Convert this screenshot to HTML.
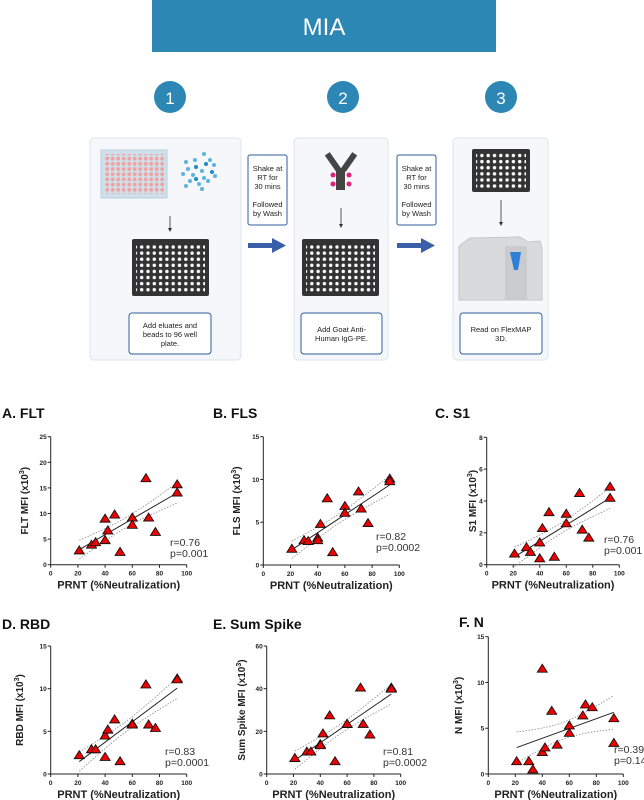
<!DOCTYPE html>
<html><head><meta charset="utf-8"><style>
body{margin:0;width:644px;height:800px;background:#fff;overflow:hidden;font-family:"Liberation Sans",sans-serif}
svg{position:absolute;left:0;top:0}
</style></head><body>
<svg width="644" height="800" id="main" font-family="Liberation Sans, sans-serif">
<defs>
<pattern id="dots" width="6.3" height="6.1" patternUnits="userSpaceOnUse"><circle cx="3.1" cy="3" r="1.7" fill="#fff"/></pattern>
<pattern id="pdots" width="5.5" height="5.2" patternUnits="userSpaceOnUse"><circle cx="2.7" cy="2.6" r="1.9" fill="#f2a0a0"/></pattern>
</defs>
<rect x="152" y="0" width="344" height="52" fill="#2c87b5"/>
<text x="324" y="35" font-size="24" fill="#fff" text-anchor="middle">MIA</text>
<g><circle cx="170" cy="97" r="16" fill="#2c87b5"/><text x="170" y="104" font-size="17" fill="#fff" text-anchor="middle">1</text></g>
<g><circle cx="343" cy="97" r="16" fill="#2c87b5"/><text x="343" y="104" font-size="17" fill="#fff" text-anchor="middle">2</text></g>
<g><circle cx="501" cy="97" r="16" fill="#2c87b5"/><text x="501" y="104" font-size="17" fill="#fff" text-anchor="middle">3</text></g>
<rect x="90" y="138" width="151" height="222" rx="4" fill="#f5f7fb" stroke="#dde3ec"/>
<rect x="294" y="138" width="94" height="222" rx="4" fill="#f5f7fb" stroke="#dde3ec"/>
<rect x="453" y="138" width="95" height="222" rx="4" fill="#f5f7fb" stroke="#dde3ec"/>
<g><rect x="101" y="150" width="66" height="48" fill="#cfe0ea" stroke="#b9cfdc"/><rect x="104" y="154" width="60" height="40" fill="url(#pdots)"/></g>
<g fill="#5bb4e0">
<circle cx="204" cy="154" r="2"/><circle cx="195" cy="160" r="2"/><circle cx="186" cy="162" r="2"/><circle cx="210" cy="160" r="2"/><circle cx="206" cy="164" r="2" fill="#1a8ac8"/><circle cx="196" cy="167" r="2" fill="#1a8ac8"/><circle cx="188" cy="169" r="2"/><circle cx="214" cy="165" r="2"/><circle cx="202" cy="171" r="2"/><circle cx="212" cy="172" r="2" fill="#1a8ac8"/><circle cx="193" cy="175" r="2"/><circle cx="183" cy="174" r="2"/><circle cx="204" cy="178" r="2"/><circle cx="215" cy="176" r="2"/><circle cx="190" cy="181" r="2"/><circle cx="199" cy="184" r="2"/><circle cx="208" cy="181" r="2"/><circle cx="186" cy="186" r="2"/><circle cx="202" cy="189" r="2"/><circle cx="196" cy="179" r="2" fill="#1a8ac8"/></g>
<g><rect x="132" y="239" width="77" height="57" rx="2" fill="#333"/><rect x="136" y="243" width="69" height="49" fill="url(#dots)"/></g>
<g><rect x="302" y="239" width="77" height="57" rx="2" fill="#333"/><rect x="306" y="243" width="69" height="49" fill="url(#dots)"/></g>
<g><rect x="472" y="149" width="58" height="43" rx="2" fill="#333"/><rect x="476" y="152" width="50" height="37" fill="url(#dots)"/></g>
<g><rect x="336" y="168" width="9" height="22" fill="#444"/><rect x="330" y="152" width="6" height="20" fill="#444" transform="rotate(-35 333 162)"/><rect x="346" y="152" width="6" height="20" fill="#444" transform="rotate(35 349 162)"/><circle cx="333" cy="175" r="2.5" fill="#e0207a"/><circle cx="333" cy="184" r="2.5" fill="#e0207a"/><circle cx="349" cy="175" r="2.5" fill="#e0207a"/><circle cx="349" cy="184" r="2.5" fill="#e0207a"/></g>
<g><path d="M459 246 L470 238 L520 237 L528 242 L540 241 L542 248 L542 300 L459 300 Z" fill="#d9dadc" stroke="#c4c6c9"/><rect x="505" y="246" width="22" height="54" fill="#c9cbce"/><path d="M510 252 L521 252 L518 270 L514 270 Z" fill="#2e7fd8"/></g>
<g stroke="#333" stroke-width="0.8"><line x1="170" y1="216" x2="170" y2="228"/><line x1="341" y1="208" x2="341" y2="224"/><line x1="501" y1="200" x2="501" y2="222"/></g>
<g fill="#333"><path d="M168 228 L172 228 L170 232Z"/><path d="M339 224 L343 224 L341 228Z"/><path d="M499 222 L503 222 L501 226Z"/></g>
<g><rect x="248" y="155" width="39" height="70" rx="2" fill="#fff" stroke="#2f5c9c"/><text font-size="7.5" fill="#222" text-anchor="middle"><tspan x="267.5" y="171">Shake at</tspan><tspan x="267.5" y="180">RT for</tspan><tspan x="267.5" y="189">30 mins</tspan><tspan x="267.5" y="207">Followed</tspan><tspan x="267.5" y="216">by Wash</tspan></text></g>
<g><rect x="397" y="155" width="39" height="70" rx="2" fill="#fff" stroke="#2f5c9c"/><text font-size="7.5" fill="#222" text-anchor="middle"><tspan x="416.5" y="171">Shake at</tspan><tspan x="416.5" y="180">RT for</tspan><tspan x="416.5" y="189">30 mins</tspan><tspan x="416.5" y="207">Followed</tspan><tspan x="416.5" y="216">by Wash</tspan></text></g>
<g><rect x="248" y="243" width="25" height="5" fill="#3a5fa8"/><path d="M272 238 L286 245.5 L272 253Z" fill="#3a5fa8"/></g>
<g><rect x="397" y="243" width="25" height="5" fill="#3a5fa8"/><path d="M421 238 L435 245.5 L421 253Z" fill="#3a5fa8"/></g>
<g><rect x="129" y="313" width="82" height="41" rx="3" fill="#fff" stroke="#2f5c9c"/><text font-size="7.5" fill="#222" text-anchor="middle"><tspan x="170" y="328">Add eluates and</tspan><tspan x="170" y="337">beads to 96 well</tspan><tspan x="170" y="346">plate.</tspan></text></g>
<g><rect x="301" y="313" width="81" height="41" rx="3" fill="#fff" stroke="#2f5c9c"/><text font-size="7.5" fill="#222" text-anchor="middle"><tspan x="341.5" y="332">Add Goat Anti-</tspan><tspan x="341.5" y="341">Human IgG-PE.</tspan></text></g>
<g><rect x="460" y="313" width="82" height="41" rx="3" fill="#fff" stroke="#2f5c9c"/><text font-size="7.5" fill="#222" text-anchor="middle"><tspan x="501" y="332">Read on FlexMAP</tspan><tspan x="501" y="341">3D.</tspan></text></g>
<g id="charts"></g>
</svg>
<script>
const prnt = [21,30,33,40,40,42,47,51,60,60,70,72,77,93,93];
const yFLT = [2.8,3.9,4.4,4.8,9.0,6.7,9.8,2.5,9.2,7.8,16.9,9.2,6.4,15.7,14.1];
const yFLS = [1.9,2.9,2.8,3.2,2.9,4.8,7.8,1.5,6.9,6.1,8.6,6.6,4.9,10.1,9.8];
const yS1 = [0.7,1.1,0.8,1.4,0.4,2.3,3.3,0.5,3.2,2.6,4.5,2.2,1.7,4.9,4.2];
const yRBD = [2.2,2.9,2.9,4.5,2.0,5.2,6.4,1.5,5.9,5.8,10.5,5.8,5.4,11.2,11.1];
const ySum = [7.5,10.5,10.5,14,13.5,19,27.5,6,23.5,23.5,40.5,23.5,18.5,40.5,40];
const yN = [1.4,1.4,0.5,11.5,2.4,2.9,6.9,3.2,5.3,4.5,6.4,7.6,7.3,6.1,3.4];
const xTicks = [0,20,40,60,80,100];
const ticksFLT = [0,5,10,15,20,25];
const ticksFLS = [0,5,10,15];
const ticksS1 = [0,2,4,6,8];
const ticksRBD = [0,5,10,15];
const ticksSum = [0,20,40,60];
const ticksN = [0,5,10,15];
const stats = [["r=0.76","p=0.001"],["r=0.82","p=0.0002"],["r=0.76","p=0.001"],["r=0.83","p=0.0001"],["r=0.81","p=0.0002"],["r=0.39","p=0.14"]];
const NS="http://www.w3.org/2000/svg";
const root=document.getElementById('charts');
function el(t,a,p){const e=document.createElementNS(NS,t);for(const k in a)e.setAttribute(k,a[k]);(p||root).appendChild(e);return e;}
const specs=[
 {key:'flt',title:'A. FLT',tx:2,ty:418,yl:'FLT MFI (x10',ys:yFLT,ticks:ticksFLT,x0:50.7,x1:186.7,y0:564.7,y1:436.7,stat:stats[0],sx:170,sy:546,ylx:20},
 {key:'fls',title:'B. FLS',tx:213,ty:418,yl:'FLS MFI (x10',ys:yFLS,ticks:ticksFLS,x0:263.3,x1:399.3,y0:565,y1:436.7,stat:stats[1],sx:376,sy:540,ylx:232},
 {key:'s1',title:'C. S1',tx:435,ty:418,yl:'S1 MFI (x10',ys:yS1,ticks:ticksS1,x0:486.7,x1:619.3,y0:564.7,y1:437.3,stat:stats[2],sx:604,sy:543,ylx:468},
 {key:'rbd',title:'D. RBD',tx:2,ty:629,yl:'RBD MFI (x10',ys:yRBD,ticks:ticksRBD,x0:50.7,x1:186.7,y0:774,y1:646,stat:stats[3],sx:165,sy:755,ylx:15},
 {key:'sum',title:'E. Sum Spike',tx:213,ty:629,yl:'Sum Spike MFI (x10',ys:ySum,ticks:ticksSum,x0:266.7,x1:400.7,y0:774,y1:646,stat:stats[4],sx:383,sy:755,ylx:237},
 {key:'n',title:'F. N',tx:459,ty:627,yl:'N MFI (x10',ys:yN,ticks:ticksN,x0:488.3,x1:623.3,y0:774,y1:636.7,stat:stats[5],sx:614,sy:753,ylx:454}
];
specs.forEach(s=>{
 const g=el('g',{});
 
 
 const ymax=s.ticks[s.ticks.length-1];
 const X=v=>s.x0+(s.x1-s.x0)*v/100;
 const Y=v=>s.y0+(s.y1-s.y0)*v/ymax;
 const t=el('text',{x:s.tx,y:s.ty,'font-size':14,'font-weight':'bold',fill:'#111'},g);t.textContent=s.title;
 
 
 el('line',{x1:s.x0,y1:s.y0,x2:s.x1,y2:s.y0,stroke:'#222','stroke-width':1},g);
 el('line',{x1:s.x0,y1:s.y0,x2:s.x0,y2:s.y1,stroke:'#222','stroke-width':1},g);
 xTicks.forEach(v=>{el('line',{x1:X(v),y1:s.y0,x2:X(v),y2:s.y0+3,stroke:'#222'},g);const tt=el('text',{x:X(v),y:s.y0+11,'font-size':6.5,'font-weight':'bold','text-anchor':'middle',fill:'#222'},g);tt.textContent=v;
  
  });
 s.ticks.forEach(v=>{el('line',{x1:s.x0-3,y1:Y(v),x2:s.x0,y2:Y(v),stroke:'#222'},g);const tt=el('text',{x:s.x0-4,y:Y(v)+2.5,'font-size':6.5,'font-weight':'bold','text-anchor':'end',fill:'#222'},g);tt.textContent=v;
  
  });
 const xt=el('text',{x:(s.x0+s.x1)/2,y:s.y0+24,'font-size':11,'font-weight':'bold','text-anchor':'middle',fill:'#222'},g);xt.textContent='PRNT (%Neutralization)';
 
 
 const cy=(s.y0+s.y1)/2;
 const yt=el('text',{x:0,y:0,'font-size':10,'font-weight':'bold','text-anchor':'middle',fill:'#222',transform:`translate(${s.ylx+8},${cy}) rotate(-90)`},g);
 yt.textContent=s.yl;const sup=el('tspan',{dy:-4,'font-size':7},yt);sup.textContent='3';const cl=el('tspan',{dy:4},yt);cl.textContent=')';
 
 
 const n=prnt.length;let mx=0,my=0;prnt.forEach((x,i)=>{mx+=x;my+=s.ys[i];});mx/=n;my/=n;
 let sxx=0,sxy=0;prnt.forEach((x,i)=>{sxx+=(x-mx)**2;sxy+=(x-mx)*(s.ys[i]-my);});
 const b=sxy/sxx,a=my-b*mx;let sse=0;prnt.forEach((x,i)=>{sse+=(s.ys[i]-a-b*x)**2;});
 const se=Math.sqrt(sse/(n-2)),tv=1.25;
 const xmin=Math.min(...prnt),xmax=Math.max(...prnt);
 let up='',lo='';
 for(let k=0;k<=30;k++){const x=xmin+(xmax-xmin)*k/30;const h=tv*se*Math.sqrt(1/n+(x-mx)**2/sxx);const yh=a+b*x;
  up+=(k?'L':'M')+X(x).toFixed(1)+' '+Y(yh+h).toFixed(1);lo+=(k?'L':'M')+X(x).toFixed(1)+' '+Y(yh-h).toFixed(1);}
 const u=el('path',{d:up,fill:'none',stroke:'#888','stroke-width':0.8,'stroke-dasharray':'1.5 1.5'},g);
 
 
 const l=el('path',{d:lo,fill:'none',stroke:'#888','stroke-width':0.8,'stroke-dasharray':'1.5 1.5'},g);
 
 
 const rl=el('line',{x1:X(xmin),y1:Y(a+b*xmin),x2:X(xmax),y2:Y(a+b*xmax),stroke:'#222','stroke-width':1},g);
 
 
 prnt.forEach((x,i)=>{const px=X(x),py=Y(s.ys[i]);
  const p=el('path',{d:`M${px} ${py-4.5}L${px+5} ${py+3.5}L${px-5} ${py+3.5}Z`,fill:'#e00',stroke:'#111','stroke-width':0.9},g);
  
  });
 const st=el('text',{x:s.sx,y:s.sy,'font-size':10.5,fill:'#333'},g);
 
 
 const t1=el('tspan',{x:s.sx,dy:0},st);t1.textContent=s.stat[0];const t2=el('tspan',{x:s.sx,dy:11},st);t2.textContent=s.stat[1];
});
</script>
</body></html>
